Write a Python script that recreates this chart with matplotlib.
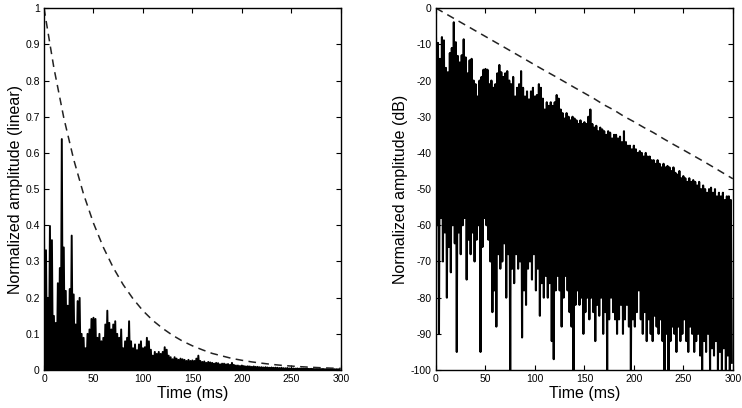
import numpy as np
import matplotlib
matplotlib.use("Agg")
from matplotlib import pyplot as plt

# time grid (ms), one reading every 2 ms
times = np.arange(0, 300, 2)

# upper envelope of the decay (dB)
peak_db = [
    -8.4, -9.6, -14, -8.0, -8.9, -16.5, -17.7, -12.4, -11, -3.9,
    -9.4, -13.2, -15, -13, -8.6, -13.6, -18, -14.4, -14, -20,
    -21, -24.4, -20, -19, -17, -16.8, -17, -21, -20, -22,
    -21, -18, -15.7, -17.7, -19, -18, -17.4, -20, -21, -19,
    -24.4, -22, -21, -17.4, -22, -24.4, -23, -25.2, -23, -22,
    -24.4, -24, -21, -22, -25, -28, -26, -27, -26, -27,
    -26, -24, -25, -28, -29, -30.5, -29, -30, -31, -30,
    -30.5, -31, -32, -31, -32, -31.5, -32, -30, -28, -32,
    -33, -32.5, -34, -33, -33.5, -34, -35, -34, -34.4, -36,
    -35, -35, -36, -35.5, -37, -34, -37, -38, -38, -39,
    -38, -39, -40, -39.5, -40, -41, -40, -41, -41, -42,
    -42, -43, -42, -43, -44, -43, -44, -43.6, -44, -45,
    -44, -45.5, -46, -45, -47, -46.4, -47, -48, -47, -48,
    -47.5, -48, -49, -48, -50, -49, -50, -51, -50, -49.6,
    -51, -50, -52, -51, -52, -51, -53, -52, -52, -53,
]

# lower edge of the trace (dB)
trough_db = [
    -60, -90, -58, -70, -62, -80, -66, -73, -60, -65,
    -95, -62, -68, -60, -58, -75, -64, -68, -62, -70,
    -64, -60, -95, -66, -58, -60, -64, -70, -84, -78,
    -88, -68, -72, -70, -65, -80, -68, -100, -72, -76,
    -68, -72, -70, -91, -78, -82, -72, -70, -75, -68,
    -78, -72, -85, -76, -80, -74, -80, -76, -92, -97,
    -78, -74, -78, -88, -80, -74, -78, -84, -88, -100,
    -82, -78, -82, -80, -90, -84, -80, -86, -80, -84,
    -92, -82, -85, -80, -90, -84, -100, -86, -80, -84,
    -86, -90, -86, -82, -90, -86, -82, -88, -100, -86,
    -88, -84, -78, -86, -90, -84, -92, -86, -90, -92,
    -85, -88, -90, -86, -92, -100, -90, -100, -92, -88,
    -90, -95, -88, -92, -90, -86, -92, -95, -88, -90,
    -95, -92, -90, -96, -100, -92, -95, -90, -100, -94,
    -96, -92, -100, -95, -100, -94, -100, -96, -100, -98,
]

# dashed reference decay (linear), read every 10 ms
env_t = np.arange(0, 301, 10)
env_lin = [
    1.0, 0.835, 0.697, 0.582, 0.486, 0.406, 0.339, 0.283, 0.236, 0.197,
    0.164, 0.137, 0.115, 0.096, 0.080, 0.067, 0.056, 0.046, 0.039, 0.032,
    0.027, 0.0225, 0.019, 0.0157, 0.0131, 0.011, 0.0092, 0.0077, 0.0064,
    0.0053, 0.0044,
]

plt.rcParams["font.family"] = ["Liberation Sans", "DejaVu Sans"]
plt.rcParams["axes.unicode_minus"] = False

# zigzag: peak at t, trough at t+1
sig_t = np.column_stack([times, times + 1]).ravel()
sig_db = np.column_stack([peak_db, trough_db]).ravel()
sig_lin = 10 ** (sig_db / 20.0)
env_db = 20 * np.log10(env_lin)

fig = plt.figure(figsize=(7.42, 4.08), dpi=100)
ax1 = fig.add_axes([0.0593, 0.093, 0.400, 0.887])
ax2 = fig.add_axes([0.5876, 0.093, 0.400, 0.887])

ax1.plot(sig_t, sig_lin, color="black", lw=1.4)
ax1.plot(env_t, env_lin, color="#222222", lw=1.1, ls=(0, (5, 3.5)))
ax1.set_xlim(0, 300)
ax1.set_ylim(0, 1)
ax1.set_yticks(np.arange(0, 1.01, 0.1))
ax1.set_yticklabels(["0", "0.1", "0.2", "0.3", "0.4", "0.5", "0.6", "0.7", "0.8", "0.9", "1"])
ax1.set_ylabel("Normalized amplitude (linear)", fontsize=11.5, labelpad=2)

ax2.plot(sig_t, sig_db, color="black", lw=1.5)
ax2.plot(env_t, env_db, color="#222222", lw=1.1, ls=(0, (5, 3.5)))
ax2.set_xlim(0, 300)
ax2.set_ylim(-100, 0)
ax2.set_yticks(np.arange(-100, 1, 10))
ax2.set_ylabel("Normalized amplitude (dB)", fontsize=11.5, labelpad=2)

for ax in (ax1, ax2):
    ax.set_xticks(np.arange(0, 301, 50))
    ax.set_xlabel("Time (ms)", fontsize=11.5, labelpad=1)
    ax.tick_params(direction="in", top=True, right=True, length=3.5,
                   labelsize=7.5, pad=3)
    for s in ax.spines.values():
        s.set_linewidth(1.0)

fig.savefig("out.png", dpi=100)
